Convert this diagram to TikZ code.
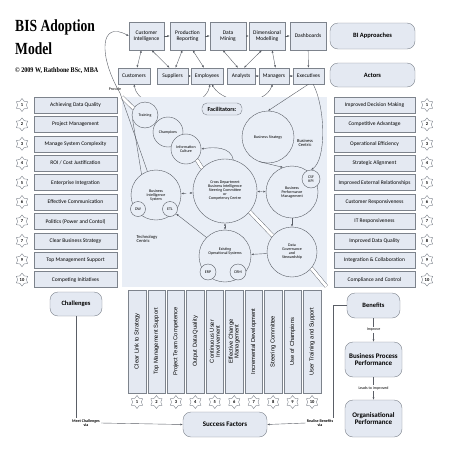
\documentclass[tikz,border=0pt]{standalone}
\usepackage{fontspec}
\setmainfont{Carlito}
\newfontfamily\vertfont{Liberation Sans}
\newfontfamily\titlefont{Liberation Serif}
\usetikzlibrary{positioning, arrows.meta, shapes.geometric}
\newcommand{\fs}[1]{\fontsize{#1}{#1}\selectfont}
\definecolor{boxfill}{HTML}{E4E9F2}
\definecolor{boxline}{HTML}{7D838C}
\definecolor{facfill}{HTML}{E9EEF6}
\definecolor{circline}{HTML}{5A5E66}

\begin{document}
\begin{tikzpicture}[
    x=1pt, y=-1pt,
    % GLOBAL CFG
    font=\fs{5.5},
    >={Latex[length=2.5pt,width=2pt]},
    % Styles
    approach/.style={% For BI approaches and actors
        rectangle,
        draw=boxline,
        fill=boxfill,
        minimum height=28pt,
        inner sep=1pt,
        align=center,
        },
    group/.style={% For the big rounded labels
        rectangle,
        rounded corners=8pt,
        draw=boxline,
        fill=boxfill,
        font=\bfseries\fs{6.5},
        align=center,
        },
    listbox/.style={% For challenges and benefits
        rectangle,
        draw=boxline,
        fill=boxfill,
        minimum height=16pt,
        inner sep=1pt,
        },
    sfbox/.style={% For success factors
        rectangle,
        draw=boxline,
        fill=boxfill,
        rotate=90,
        minimum width=103pt,
        minimum height=17.5pt,
        inner sep=1pt,
        align=center,
        font=\vertfont\fs{5.8},
        },
    numstar/.style={% For the numbers
        star,
        star points=6,
        star point ratio=1.5,
        draw=boxline,
        fill=white,
        minimum size=13pt,
        inner sep=0pt,
        font=\bfseries\fs{4.5},
        },
    fac/.style={% For facilitators
        circle,
        draw=circline,
        fill=facfill,
        inner sep=0pt,
        align=center,
        font=\fs{4},
        },
    mylabel/.style={% Small texts
        font=\fs{4},
        align=center,
        inner sep=1pt,
        },
    band/.style={% Hollow links
        draw=circline,
        double=white,
        double distance=3pt,
        line width=0.4pt,
        },
    ]

    \useasboundingbox (0,0) rectangle (453,453);

    % Title
    \node[anchor=north west, inner sep=0pt, align=left] (title) at (15,20)
        {\scalebox{0.8}[1]{\titlefont\bfseries\fs{17}BIS Adoption}\\[6pt]
         \scalebox{0.8}[1]{\titlefont\bfseries\fs{17}Model}};
    \node[anchor=west, inner sep=0pt] (copy) at (15,71)
        {\scalebox{0.85}[1]{\titlefont\bfseries\fs{7.2}\textcopyright\ 2009 W, Rathbone BSc, MBA}};

    % Draw BI approaches named as basis ci, pr, dm, dim, dash
    \node[approach, minimum width=35pt] (ci) at (146.5,36) {Customer\\Intelligence};
    \node[approach, minimum width=35pt] (pr) at (187.5,36) {Production\\Reporting};
    \node[approach, minimum width=36pt] (dm) at (228,36) {Data\\Mining};
    \node[approach, minimum width=36pt] (dim) at (267,36) {Dimensional\\Modelling};
    \node[approach, minimum width=36pt] (dash) at (308,36) {Dashboards};
    \node[group, minimum width=85pt, minimum height=26pt] (appr) at (372.5,36) {BI Approaches};

    % Draw actors
    \node[approach, minimum width=32pt, minimum height=16pt] (cust) at (134,76) {Customers};
    \node[approach, minimum width=31pt, minimum height=16pt] (supp) at (172.5,76) {Suppliers};
    \node[approach, minimum width=32pt, minimum height=16pt] (empl) at (207,76) {Employees};
    \node[approach, minimum width=28pt, minimum height=16pt] (anal) at (241,76) {Analysts};
    \node[approach, minimum width=30pt, minimum height=16pt] (mana) at (274,76) {Managers};
    \node[approach, minimum width=31pt, minimum height=16pt] (exec) at (308.5,76) {Executives};
    \node[group, minimum width=85pt, minimum height=24pt] (act) at (372.5,75) {Actors};

    % Connect approaches and actors
    \draw [->, boxline!70!black] (ci) -- (pr);
    \draw [->, boxline!70!black] (pr) -- (dm);
    \draw [->, boxline!70!black] (dm) -- (dim);
    \draw [->, boxline!70!black] (dim) -- (dash);
    \draw [<->, circline] (ci.250) -- (cust.70);
    \draw [<->, circline] (ci.290) -- (supp.110);
    \draw [<->, circline] (pr.250) -- (supp.70);
    \draw [<->, circline] (pr.290) -- (empl.110);
    \draw [<->, circline] (dm.250) -- (anal.110);
    \draw [<->, circline] (dim.250) -- (anal.70);
    \draw [<->, circline] (dim.290) -- (mana.80);
    \draw [->, circline] (dash) -- (exec);
    \draw [<->, circline, >={Latex[length=1.5pt,width=2pt]}] (supp) -- (empl);
    \draw [<->, circline, >={Latex[length=1.5pt,width=2pt]}] (anal) -- (mana);
    \draw [<->, circline, >={Latex[length=1.5pt,width=2pt]}] (mana) -- (exec);
    \draw [<->, circline] (cust.south) to[out=-80, in=-100] (empl.290);
    \draw [<->, circline] (empl.300) to[out=-60, in=-110] (mana.260);

    % Draw the facilitators area
    \node[rectangle, draw=boxline, fill=facfill, double=facfill, minimum width=204pt,
          minimum height=189pt, anchor=north west] (facbox) at (122,97) {};
    \node[group, rounded corners=5pt, font=\bfseries\fs{6}, minimum width=40pt,
          minimum height=12pt, inner sep=1pt] (factitle) at (222,109) {Facilitators:};

    % Facilitators named as basis
    \node[fac, minimum size=26pt] (train) at (145,115) {Training};
    \node[fac, minimum size=30pt] (champ) at (168,132) {Champions};
    \node[fac, minimum size=30pt] (cult) at (186,149) {Information\\Culture};
    \node[fac, minimum size=52pt] (strat) at (268,137) {Business Strategy};
    \node[fac, minimum size=64pt] (cross) at (225,191)
        {Cross Department\\Business Intelligence\\Steering Committee\\or\\Competency Centre};
    \node[fac, minimum size=50pt] (bis) at (156,195) {Business\\Intelligence\\System};
    \node[fac, minimum size=15pt] (dw) at (138,209) {DW};
    \node[fac, minimum size=15pt] (etl) at (170,209) {ETL};
    \node[fac, minimum size=52pt] (bpm) at (292,192) {Business\\Performance\\Management};
    \node[fac, minimum size=18pt] (csf) at (311,179) {CSF\\KPI};
    \node[fac, minimum size=50pt] (gov) at (292,252) {Data\\Governance\\and\\Stewardship};
    \node[fac, minimum size=52pt] (exist) at (225,256) {Existing\\Operational Systems\\[6pt]};
    \node[fac, minimum size=16pt] (erp) at (208,272) {ERP};
    \node[fac, minimum size=16pt] (crm) at (238,272) {CRM};
    \node[mylabel, font=\fs{4.5}] (bcen) at (305,143) {Business\\Centric};
    \node[mylabel, font=\fs{4.5}, align=left] (tcen) at (147,239) {Technology\\Centric};

    % Internal links
    \draw [<->, dashed, circline] (bis) -- (cross);
    \draw [<->, dashed, circline] (cross) -- (bpm);
    \draw [<->, dashed, circline] (cross) -- (exist);
    \draw [->, circline] (exist.135) -- (etl);
    \draw [->, circline] (gov) -- (exist);
    \draw [->, circline] (bpm) -- (gov);
    \draw [->, circline] (strat.250) -- (bpm.110);
    \draw [->, circline] (cross.75) to[out=100, in=10] (cult.east);
    \draw [band] (cult.-45) -- (cross.135);
    \draw [band] (cross.-40) -- (gov.140);
    \draw [band] (gov.-40) -- (facbox.south east);
    \draw [band] (facbox.north west) -- (train.150);

    % Provide link
    \coordinate (prov) at (120,93);
    \node[mylabel] (provlbl) at (115,89) {Provide};
    \draw [->, circline] (prov) .. controls (98,55) and (100,20) .. (ci.west);
    \draw [circline] (prov) -- (bis.110);
    \draw [circline] (train.200) -- (bis.125);
    \draw [->, circline] (exec.south) -- (strat.north);
    \draw [->, circline] (exec.-60) .. controls (326,110) and (326,160) .. (csf.north);

    % Challenges named lbox#, benefits named rbox#
    \foreach \i/\t/\n in {1/{Achieving Data Quality}/1, 2/{Project Management}/2,
        3/{Manage System Complexity}/3, 4/{ROI / Cost Justification}/4,
        5/{Enterprise Integration}/5, 6/{Effective Communication}/6,
        7/{Politics (Power and Contol)}/7, 8/{Clear Business Strategy}/7,
        9/{Top Management Support}/9, 10/{Competing Initiatives}/10}
    {
        \node[listbox, minimum width=83pt] (lbox\i) at (75.5,{105+19.4*(\i-1)}) {\t};
        \node[numstar] (lstar\i) at (22,{105+19.4*(\i-1)}) {\n};
    }
    \foreach \i/\t in {1/Improved Decision Making, 2/Competitive Advantage,
        3/Operational Efficiency, 4/Strategic Alignment,
        5/Improved External Relationships, 6/Customer Responsiveness,
        7/IT Responsiveness, 8/Improved Data Quality,
        9/Integration \& Collaboration, 10/Compliance and Control}
    {
        \node[listbox, minimum width=81pt] (rbox\i) at (374.5,{105+19.4*(\i-1)}) {\t};
        \node[numstar] (rstar\i) at (427,{105+19.4*(\i-1)}) {\i};
    }

    % Success factors named sbox#
    \foreach \i/\t in {1/Clear Link to Strategy, 2/Top Management Support,
        3/Project Team Competence, 4/Output Data Quality,
        5/Continuous User\\Involvement, 6/Effective Change\\Management,
        7/Incremental Development, 8/Steering Committee,
        9/Use of Champions, 10/User Training and Support}
    {
        \node[sfbox] (sbox\i) at ({137+19.45*(\i-1)},341.5) {\t};
        \node[numstar] (sstar\i) at ({137+19.45*(\i-1)},402) {\i};
    }

    % Outcomes
    \node[group, minimum width=52pt, minimum height=24pt] (chal) at (76,304) {Challenges};
    \node[group, minimum width=84pt, minimum height=25pt, font=\bfseries\fs{7}] (sf) at (225,424.5) {Success Factors};
    \node[group, minimum width=53pt, minimum height=25pt] (ben) at (373.5,305.5) {Benefits};
    \node[group, minimum width=57pt, minimum height=35pt, font=\bfseries\fs{7}] (bpp) at (373.5,359.5) {Business Process\\Performance};
    \node[group, minimum width=57pt, minimum height=37pt, font=\bfseries\fs{7}] (org) at (373.5,418.5) {Organisational\\Performance};

    \node[mylabel, font=\bfseries\fs{4}] (meet) at (86,423) {Meet Challenges\\via};
    \node[mylabel, font=\bfseries\fs{4}] (real) at (320,423) {Realise Benefits\\via};
    \node[mylabel] (impr) at (373.5,330) {Improve};
    \node[mylabel] (lead) at (373.5,388) {Leads to improved};

    \draw [circline] (chal) -- (chal |- meet.north);
    \draw [->, circline] (meet.east) -- (sf.west);
    \draw [circline] (ben.west) -| (real.north -| 333,0);
    \draw [->, circline] (real.west) -- (sf.east);
    \draw [circline] (ben) -- (impr);
    \draw [->, circline] (impr) -- (bpp);
    \draw [circline] (bpp) -- (lead);
    \draw [->, circline] (lead) -- (org);

\end{tikzpicture}
\end{document}
